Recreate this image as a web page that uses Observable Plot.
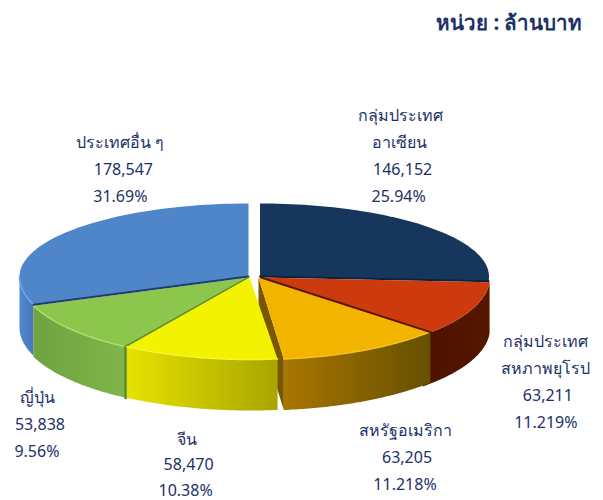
<!DOCTYPE html>
<html><head><meta charset="utf-8">
<style>html,body{margin:0;padding:0;background:#fff}svg{display:block}</style>
<script src="https://cdn.jsdelivr.net/npm/d3@7"></script>
<script src="https://cdn.jsdelivr.net/npm/@observablehq/plot@0.6"></script>
</head><body><div id="chart"></div>
<script>
// Data
const categories = ["กลุ่มประเทศ\nอาเซียน","กลุ่มประเทศ\nสหภาพยุโรป","สหรัฐอเมริกา","จีน","ญี่ปุ่น","ประเทศอื่น ๆ"];
const values = [146152,63211,63205,58470,53838,178547];
const valueLabels = ["146,152","63,211","63,205","58,470","53,838","178,547"];
const percentLabels = ["25.94%","11.219%","11.218%","10.38%","9.56%","31.69%"];
const unitTitle = "หน่วย : ล้านบาท";

// Styles and layout
const topColors = ["#16365c","#cc3a0e","#f3b400","#f3f200","#8cc64d","#4f86c9"];
const wallStops = [["#16365c","#16365c"],["#4c1300","#561600"],["#a87600","#665000"],["#e6e200","#a9a500"],["#6fa33f","#7fb54b"],["#5288d0","#4478b8"]];
const rimColors = [null,null,"#f7c21c","#f8f430","#a9e06c","#6ea8ec"];
const centres = [[259.5,276],[260.5,277],[258,277],[249,277],[248,277],[248,276]];
const startShift = [0,0,-2.4,-1.2,0.9,4];   // perspective correction of the cuts, in degrees
const endShift = [0,-1.8,-0.5,0.9,4,0];
const wallExtra = [0,3,0,0,0,0];            // wall runs on under the next slice
const rx = 229, ryBack = 73, ryFront = 82, depth = 51;
const labelOffset = [[-26,-111],[75,32],[46,80],[-12,82],[-38.5,66],[64,-93.5]];
const lineDx = [[0,-1,2,-2],[0,0,2,0],[0,2,0],[0,2,-1],[0,2,-1],[0,3,0]];
const lineStep = [27,27,27,25.5,27,27];
const inkColor = "#1b3168";

// Geometry
const rad = Math.PI/180;
const rawPie = d3.pie().sort(null).startAngle(-Math.PI/2).endAngle(1.5*Math.PI)(values);
const pie = rawPie.map((s,i)=>({startAngle:s.startAngle+startShift[i]*rad, endAngle:s.endAngle+endShift[i]*rad}));
const rim = (i,a,drop=0) => ({
  x: centres[i][0] + rx*Math.cos(a),
  y: centres[i][1] + (Math.sin(a)>0?ryFront:ryBack)*Math.sin(a) + drop
});
const arc = (i,a,b,drop=0) => d3.range(0,61).map(k => rim(i,a+(b-a)*k/60,drop));
const apex = (i,drop=0) => ({x:centres[i][0], y:centres[i][1]+drop});
const topFace = i => [apex(i), ...arc(i,pie[i].startAngle,pie[i].endAngle)];
const frontRange = i => [Math.max(pie[i].startAngle,0), Math.min(pie[i].endAngle,Math.PI)];
const wall = i => { const [a,b0]=frontRange(i), b=b0+wallExtra[i]*rad; return [...arc(i,a,b), ...arc(i,b,a,depth)]; };
const cutWall = (i,a) => [apex(i), rim(i,a), rim(i,a,depth), apex(i,depth)];

const shape = (pts,fill) => Plot.line(pts,{x:"x",y:"y",fill,stroke:"none"});
const stroke = (pts,color,w) => Plot.line(pts,{x:"x",y:"y",stroke:color,strokeWidth:w});

function defs(){
  const d = d3.create("svg:defs");
  wallStops.forEach((s,i)=>{
    const g = d.append("linearGradient").attr("id","wall"+i).attr("x1",0).attr("x2",1).attr("y1",0).attr("y2",0);
    g.append("stop").attr("offset",0).attr("stop-color",s[0]);
    g.append("stop").attr("offset",1).attr("stop-color",s[1]);
  });
  return d.node();
}
const sliceMarks = i => {
  const m = [shape(wall(i),`url(#wall${i})`), shape(topFace(i),topColors[i])];
  if (rimColors[i]) { const [a,b]=frontRange(i); m.push(stroke(arc(i,a,b),rimColors[i],1.5)); }
  return m;
};
const edge = (i,a,color,w) => stroke([apex(i),rim(i,a)],color,w);

// Labels anchored on each slice's rim midpoint
const labelRows = categories.flatMap((c,i)=>{
  const mid = (rawPie[i].startAngle+rawPie[i].endAngle)/2, p = rim(i,mid);
  const lines = [...c.split("\n"),valueLabels[i],percentLabels[i]];
  return lines.map((text,k)=>({text, x:p.x+labelOffset[i][0]+lineDx[i][k], y:p.y+labelOffset[i][1]+k*lineStep[i]}));
});

const chart = Plot.plot({
  width:603,height:500,margin:0,
  x:{domain:[0,603],range:[0,603],axis:null},
  y:{domain:[0,500],range:[0,500],axis:null},
  style:{background:"#fff"},
  marks:[
    defs,
    ...sliceMarks(5),
    ...sliceMarks(0),
    edge(0,pie[0].endAngle,"#0c2340",2),
    ...sliceMarks(1),
    shape(cutWall(2,pie[2].endAngle),"#7a5600"),
    ...sliceMarks(2),
    edge(1,pie[1].endAngle,"#5a1500",2),
    ...sliceMarks(4),
    edge(5,pie[5].startAngle,"#1f3c70",2),
    stroke([rim(4,pie[4].startAngle),rim(4,pie[4].startAngle,depth)],"#5d8a30",3),
    edge(4,pie[4].startAngle,"#5d8a30",2),
    ...sliceMarks(3),
    Plot.text(labelRows,{x:"x",y:"y",text:"text",fontSize:16,fontFamily:"'Noto Sans',Tahoma,sans-serif",fill:inkColor,textAnchor:"middle"}),
    Plot.text([unitTitle],{frameAnchor:"top-right",dx:-21,dy:15,fontSize:20.5,fontWeight:"bold",fontFamily:"'Noto Sans',serif",fill:inkColor})
  ]
});
document.getElementById("chart").append(chart);
</script></body></html>
